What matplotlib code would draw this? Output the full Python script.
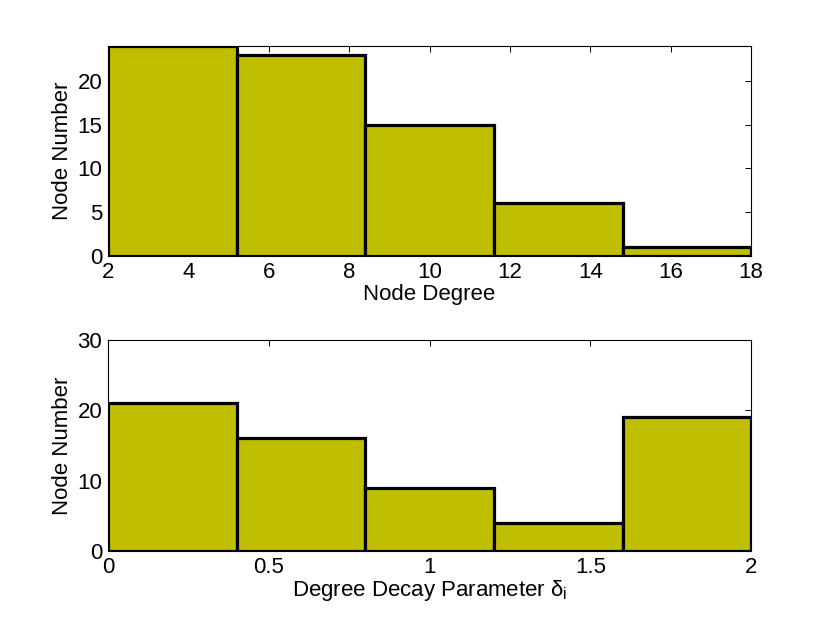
import matplotlib
matplotlib.use("Agg")
import matplotlib.pyplot as plt
import numpy as np

plt.rcParams['font.family'] = ['Liberation Sans', 'DejaVu Sans']
plt.rcParams['mathtext.fontset'] = 'custom'
plt.rcParams['mathtext.rm'] = 'Liberation Sans'
plt.rcParams['mathtext.it'] = 'Liberation Sans'

# Top histogram: node degree
deg_edges = [2, 5.2, 8.4, 11.6, 14.8, 18]
deg_counts = [24, 23, 15, 6, 1]
deg_xticks = [2, 4, 6, 8, 10, 12, 14, 16, 18]
deg_yticks = [0, 5, 10, 15, 20]

# Bottom histogram: degree decay parameter
dec_edges = [0, 0.4, 0.8, 1.2, 1.6, 2.0]
dec_counts = [21, 16, 9, 4, 19]
dec_xticks = [0, 0.5, 1, 1.5, 2]
dec_xticklabels = ['0', '0.5', '1', '1.5', '2']
dec_yticks = [0, 10, 20, 30]

color = '#bfbf00'
fs = 16

fig = plt.figure(figsize=(8.3, 6.25), dpi=100)
ax1 = fig.add_axes([0.130, 0.5904, 0.775, 0.336])
ax2 = fig.add_axes([0.130, 0.1184, 0.775, 0.3376])

def draw(ax, edges, counts):
    edges = np.array(edges)
    ax.bar(edges[:-1], counts, width=np.diff(edges), align='edge',
           color=color, edgecolor='black', linewidth=2.3, zorder=2)

draw(ax1, deg_edges, deg_counts)
ax1.set_xlim(2, 18)
ax1.set_ylim(0, 24)
ax1.set_xticks(deg_xticks)
ax1.set_yticks(deg_yticks)
ax1.set_xlabel('Node Degree', fontsize=fs, labelpad=1)
ax1.set_ylabel('Node Number', fontsize=fs, labelpad=3)

draw(ax2, dec_edges, dec_counts)
ax2.set_xlim(0, 2)
ax2.set_ylim(0, 30)
ax2.set_xticks(dec_xticks)
ax2.set_xticklabels(dec_xticklabels)
ax2.set_yticks(dec_yticks)
ax2.set_xlabel(r'Degree Decay Parameter $\delta_{\rm i}$', fontsize=fs, labelpad=0)
ax2.set_ylabel('Node Number', fontsize=fs, labelpad=3)

for ax in (ax1, ax2):
    ax.tick_params(direction='in', length=4, width=0.7, labelsize=fs,
                   top=True, right=True, pad=4)
    for s in ax.spines.values():
        s.set_linewidth(0.8)
        s.set_zorder(3)

fig.savefig('out.png', dpi=100)
